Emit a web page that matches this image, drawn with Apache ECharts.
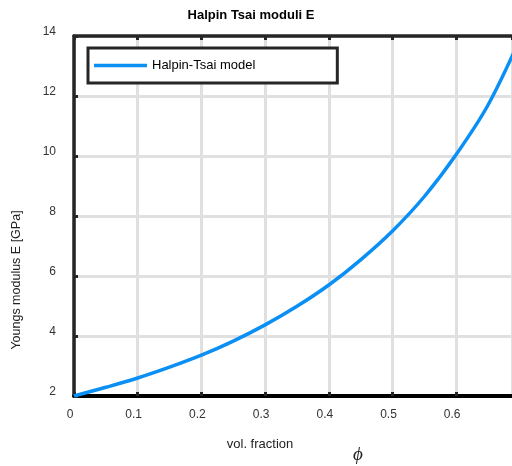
<!DOCTYPE html>
<html>
<head>
<meta charset="utf-8">
<script src="https://cdn.jsdelivr.net/npm/echarts@6/dist/echarts.min.js"></script>
<style>html,body{margin:0;padding:0;background:#fff;}#c{width:512px;height:466px;}</style>
</head>
<body>
<div id="c"></div>
<script>
const phi = [0, 0.05, 0.1, 0.15, 0.2, 0.25, 0.3, 0.35, 0.4, 0.45, 0.5, 0.55, 0.6, 0.65, 0.7];
const modulusE = [2.0, 2.29, 2.6, 2.96, 3.36, 3.83, 4.37, 4.99, 5.7, 6.54, 7.5, 8.65, 10.05, 11.7, 13.9];
const seriesName = 'Halpin-Tsai model';
const titleText = 'Halpin Tsai moduli E';
const xName = 'vol. fraction';
const yName = 'Youngs modulus E [GPa]';

const chart = echarts.init(document.getElementById('c'), null, {renderer: 'canvas'});
const dark = '#262626';
const font = 'Liberation Sans, Arial, sans-serif';
chart.setOption({
  animation: false,
  backgroundColor: '#fff',
  title: {
    text: titleText, left: 246, top: 4, textAlign: 'center',
    textStyle: {fontFamily: font, fontSize: 13, fontWeight: 'bold', color: '#000'}
  },
  grid: {left: 74, top: 36, right: 0, bottom: 70, show: false, containLabel: false},
  legend: {
    left: 88, top: 48, orient: 'horizontal',
    padding: [11, 82, 11, 6],
    borderColor: dark, borderWidth: 3, backgroundColor: '#fff',
    icon: 'rect', itemWidth: 53, itemHeight: 3.5, itemGap: 5,
    textStyle: {fontFamily: font, fontSize: 13, color: '#000'},
    data: [seriesName]
  },
  xAxis: [{
    type: 'value', min: 0, max: 0.6876, interval: 0.1, position: 'bottom',
    axisLine: {show: true, onZero: false, lineStyle: {color: '#000', width: 4}},
    axisTick: {show: true, inside: true, length: 4, lineStyle: {color: dark, width: 3}},
    axisLabel: {
      margin: 13, fontFamily: font, fontSize: 12, color: '#333', padding: [0, 8, 0, 0],
      showMaxLabel: false,
      formatter: v => v > 0.65 ? '' : String(+v.toFixed(1))
    },
    splitLine: {show: true, lineStyle: {color: '#e0e0e0', width: 3}}
  }, {
    type: 'value', min: 0, max: 0.6876, interval: 0.1, position: 'top',
    axisLine: {show: true, onZero: false, lineStyle: {color: dark, width: 3.5}},
    axisTick: {show: true, inside: true, length: 4, lineStyle: {color: dark, width: 3}},
    axisLabel: {show: false},
    splitLine: {show: false}
  }],
  yAxis: {
    type: 'value', min: 2, max: 14, interval: 2,
    axisLine: {show: true, onZero: false, lineStyle: {color: dark, width: 3.5}},
    axisTick: {show: true, inside: true, length: 4, lineStyle: {color: dark, width: 3}},
    axisLabel: {margin: 18, fontFamily: font, fontSize: 12, color: '#333', verticalAlign: 'bottom', lineHeight: 9},
    splitLine: {show: true, lineStyle: {color: '#e0e0e0', width: 3}}
  },
  graphic: [
    {type: 'text', x: 260, y: 444, style: {text: xName, font: '13px ' + font, fill: '#222', align: 'center', verticalAlign: 'middle'}},
    {type: 'text', x: 358, y: 455, style: {text: 'ϕ', font: 'italic 19px "Liberation Serif", "DejaVu Serif", serif', fill: '#222', align: 'center', verticalAlign: 'middle'}},
    {type: 'text', x: 17, y: 280, rotation: Math.PI / 2, style: {text: yName, font: '12.5px ' + font, fill: '#222', align: 'center', verticalAlign: 'middle'}}
  ],
  series: [{
    name: seriesName, type: 'line', smooth: 0.35, showSymbol: false,
    data: phi.map((p, i) => [p, modulusE[i]]),
    lineStyle: {color: '#0a8ff5', width: 3.5}, itemStyle: {color: '#0a8ff5'}
  }]
});
</script>
</body>
</html>
